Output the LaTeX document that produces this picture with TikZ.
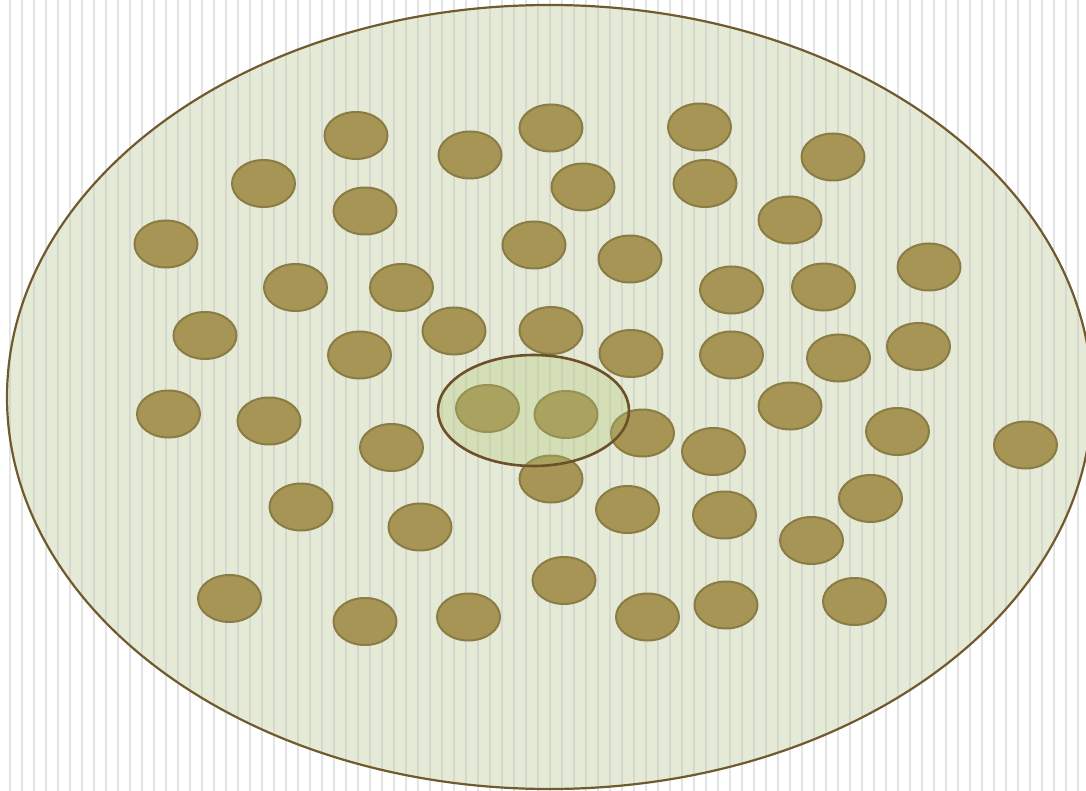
\documentclass[tikz,border=0pt]{standalone}
\usetikzlibrary{shapes.geometric}
\definecolor{bgline}{RGB}{194,194,194}
\definecolor{bigfill}{RGB}{228,234,213}
\definecolor{bigborder}{RGB}{112,90,46}
\definecolor{dotfill}{RGB}{166,149,85}
\definecolor{dotborder}{RGB}{138,124,68}
\definecolor{centerfill}{RGB}{178,198,120}
\definecolor{centerborder}{RGB}{110,80,40}
\tikzset{
  bigoval/.style={ellipse, inner sep=0pt, fill=bigfill, minimum width=1085pt, minimum height=784pt},
  bigrim/.style={ellipse, inner sep=0pt, draw=bigborder, line width=2.2pt, minimum width=1085pt, minimum height=784pt},
  dot/.style={ellipse, inner sep=0pt, fill=dotfill, draw=dotborder, line width=2pt, minimum width=63pt, minimum height=47pt},
  centeroval/.style={ellipse, inner sep=0pt, fill=centerfill, fill opacity=0.3, draw=centerborder, draw opacity=1, line width=2.6pt, minimum width=191pt, minimum height=111pt},
  stripe/.style={bgline, opacity=0.44, line width=2pt}
}
\begin{document}
\begin{tikzpicture}[x=1pt,y=-1pt]
\useasboundingbox (0,0) rectangle (1086,791);
\fill[white] (0,0) rectangle (1086,791);
\node[bigoval] (big) at (549.5,397) {};
\foreach \i in {0,...,89} {
  \draw[stripe] ({10+12*\i},0) -- ({10+12*\i},791);
}
\node[bigrim] (bigrim) at (549.5,397) {};
\foreach \n/\x/\y in {
  1/356/135.5, 2/470/155, 3/551/128, 4/699.5/127, 5/833/157,
  6/263.5/183.5, 7/365/211, 8/583/187, 9/705/183.5, 10/790/220,
  11/166/244, 12/534/245, 13/630/259, 14/295.5/287.5, 15/401.5/287.5,
  16/731.5/290, 17/823.5/287, 18/929/267, 19/205/335.5, 20/454/331,
  21/551/330.5, 22/359.5/355, 23/631/353.5, 24/731.5/355, 25/838.5/358,
  26/918.5/346.5, 27/168.5/414, 28/269/421, 29/487.5/408.5, 30/566/414.5,
  31/642.5/433, 32/391.5/447.5, 33/713.5/451.5, 34/790/406, 35/897.5/431.5,
  36/1025.5/445, 37/551/479, 38/301/507, 39/420/527, 40/627.5/509.5,
  41/724.5/515, 42/870.5/498.5, 43/811.5/540.5, 44/229.5/598.5, 45/365/621.5,
  46/468.5/617, 47/564/580.5, 48/647.5/617, 49/726/605, 50/854.5/601.5} {
  \node[dot] (d\n) at (\x,\y) {};
}
\node[centeroval] (center) at (533.5,410.5) {};
\end{tikzpicture}
\end{document}
